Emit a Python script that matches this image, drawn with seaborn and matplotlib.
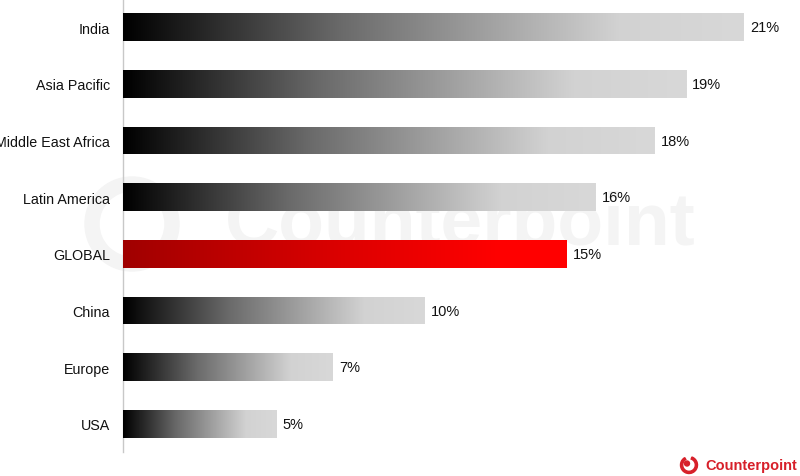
import numpy as np
import pandas as pd
import matplotlib
matplotlib.use('Agg')
import matplotlib.pyplot as plt
import seaborn as sns
from matplotlib.colors import LinearSegmentedColormap
from matplotlib.patches import Circle, Wedge

# =====================
# DATA
# =====================
regions = ['India', 'Asia Pacific', 'Middle East Africa', 'Latin America',
           'GLOBAL', 'China', 'Europe', 'USA']
values = [21.0, 19.05, 18.0, 16.0, 15.0, 10.2, 7.1, 5.2]
labels = ['21%', '19%', '18%', '16%', '15%', '10%', '7%', '5%']
highlight = 'GLOBAL'

df = pd.DataFrame({'region': regions, 'value': values})

sns.set_style('white')
plt.rcParams['font.family'] = ['Liberation Sans', 'DejaVu Sans']

fig = plt.figure(figsize=(8, 4.77), dpi=100)
ax = fig.add_axes([0.154, 0.05, 0.846, 0.95])
ax.patch.set_alpha(0)
ax.set_zorder(2)

# faint watermark (figure level, in inches so the ring stays round)
fig.text(0.575, 0.528, 'Counterpoint', fontsize=54, fontweight='bold',
         color='#f4f4f4', ha='center', va='center', zorder=-1)
fig.add_artist(Wedge((1.32, 2.52), 0.47, 0, 360, width=0.14,
                     transform=fig.dpi_scale_trans, color='#f4f4f4', zorder=-1))

sns.barplot(data=df, x='value', y='region', orient='h', color='#888888',
            width=0.49, ax=ax, zorder=2)
bars = list(ax.patches)

gray_cmap = LinearSegmentedColormap.from_list(
    'gr', [(0, '#000000'), (0.35, '#6a6a6a'), (0.8, '#d2d2d2'), (1, '#d8d8d8')])
red_cmap = LinearSegmentedColormap.from_list(
    'rd', [(0, '#a00000'), (0.5, '#dd0000'), (0.85, '#ff0000'), (1, '#ff0000')])

grad = np.linspace(0, 1, 256).reshape(1, -1)
for patch, reg in zip(bars, regions):
    x0, y0 = patch.get_x(), patch.get_y()
    w, h = patch.get_width(), patch.get_height()
    cmap = red_cmap if reg == highlight else gray_cmap
    im = ax.imshow(grad, cmap=cmap, aspect='auto', extent=[x0, x0 + w, y0 + h, y0],
                   zorder=3, interpolation='bilinear')
    im.set_clip_path(patch)
    patch.set_facecolor('none')
    patch.set_edgecolor('none')

for i, (v, lab) in enumerate(zip(values, labels)):
    ax.text(v + 0.2, i, lab, va='center', ha='left', fontsize=10.5, color='#111111')

ax.set_xlim(0, 22.9)
ax.set_ylim(7.5, -0.5)
ax.set_xlabel('')
ax.set_ylabel('')
ax.set_xticks([])
ax.tick_params(axis='y', length=0, pad=9.5, labelsize=10.3, labelcolor='#111111')
for s in ['top', 'right', 'bottom']:
    ax.spines[s].set_visible(False)
ax.spines['left'].set_color('#c8c8c8')
ax.spines['left'].set_linewidth(1)

# logo bottom right
fig.text(0.882, 0.023, 'Counterpoint', fontsize=10.5, fontweight='bold',
         color='#d7202a', ha='left', va='center')
fig.add_artist(Wedge((6.89, 0.11), 0.085, 120, 70, width=0.022,
                     transform=fig.dpi_scale_trans, color='#d7202a'))
fig.add_artist(Circle((6.87, 0.125), 0.025, transform=fig.dpi_scale_trans, color='#d7202a'))

fig.savefig('out.png', dpi=100)
